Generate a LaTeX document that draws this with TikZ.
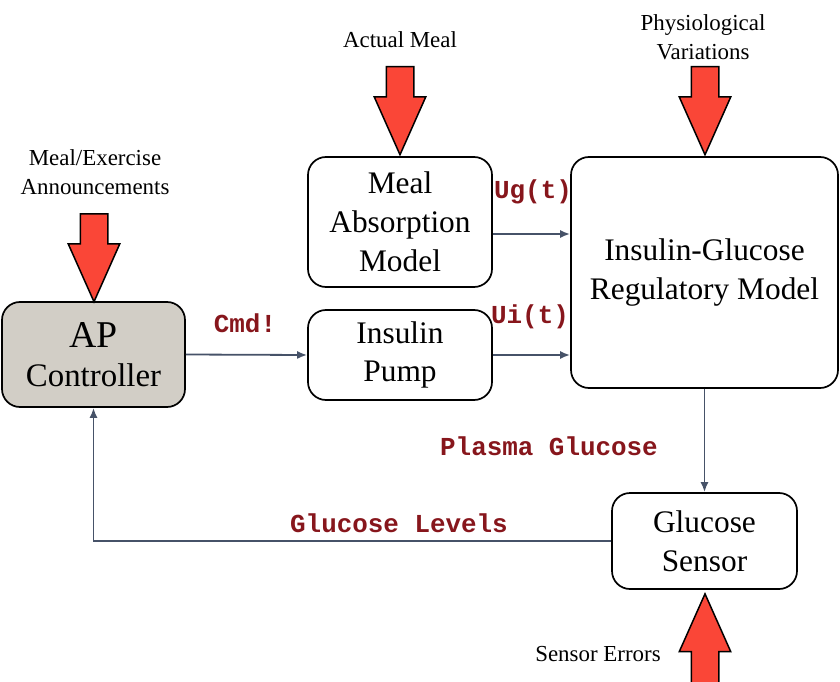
\documentclass[tikz,border=0pt]{standalone}
\usepackage{fontspec}
\usepackage{xcolor}
\usepackage{tikz}
\setmainfont{Liberation Serif}
\setmonofont{Liberation Mono}
\usetikzlibrary{arrows.meta,shapes}

\definecolor{apgray}{RGB}{210,206,198}
\definecolor{sigred}{RGB}{135,22,28}
\definecolor{wirecol}{RGB}{70,82,104}
\definecolor{inred}{RGB}{250,70,55}

\begin{document}
\begin{tikzpicture}[x=1bp, y=-1bp,
	block/.style={draw, line width=1.7bp, rounded corners=18bp, align=center, font=\fontsize{31.5}{39}\selectfont},
	siglabel/.style={font=\ttfamily\bfseries\fontsize{26}{28}\selectfont, text=sigred},
	link/.style={draw=wirecol, line width=1.8bp, -{Latex[length=10bp,width=8bp]}},
	inarrow/.style={single arrow, draw, line width=1.5bp, fill=inred, inner sep=13bp, single arrow head extend=12bp, single arrow tip angle=48, minimum height=88bp},
	note/.style={align=center, font=\fontsize{23}{29}\selectfont}]
			%\draw[help lines] (0,0) grid[step=50] (840,682);
			\useasboundingbox (0,0) rectangle (840,682);

			\node[block, fill=apgray, minimum width=183bp, minimum height=105bp] (ap) at (93.5,354.5) {{\fontsize{38}{43}\selectfont AP}\\{\fontsize{33}{43}\selectfont Controller}};
			\node[block, minimum width=184bp, minimum height=130bp] (meal) at (400,222) {Meal\\Absorption\\Model};
			\node[block, minimum width=184bp, minimum height=90bp] (pump) at (400,355) {Insulin\\Pump};
			\node[block, minimum width=267bp, minimum height=231bp] (reg) at (704.5,272.5) {Insulin-Glucose\\Regulatory Model};
			\node[block, minimum width=185bp, minimum height=96bp] (sensor) at (704.5,541) {Glucose\\Sensor};

			% red inputs
			\node[inarrow, rotate=-90, anchor=tail] (announce) at (94,213) {};
			\node[inarrow, rotate=-90, anchor=tail] (eat) at (400,66) {};
			\node[inarrow, rotate=-90, anchor=tail] (physio) at (705,66) {};
			\node[inarrow, rotate=90, anchor=tip, minimum height=100bp] (noise) at (705,592) {};

			\node[note] (announcetxt) at (95,172) {Meal/Exercise\\Announcements};
			\node[note] (eattxt) at (400,40) {Actual Meal};
			\node[note] (physiotxt) at (703,37) {Physiological\\Variations};
			\node[note] (noisetxt) at (598,654) {Sensor Errors};

			% signals
			\draw[link] (ap.east) -- (pump.west);
			\draw[link] ([yshift=-12bp]meal.east) -- ([yshift=-12bp]meal.east -| reg.west);
			\draw[link] (pump.east) -- (pump.east -| reg.west);
			\draw[link] (reg.south) -- (sensor.north);
			\draw[link] (sensor.west) -| (ap.south);

			\node[siglabel] (cmd) at (245,323) {Cmd!};
			\node[siglabel] (ug) at (533,192) {Ug(t)};
			\node[siglabel] (ui) at (530,317) {Ui(t)};
			\node[siglabel] (plasma) at (549,446) {Plasma Glucose};
			\node[siglabel] (levels) at (399,523) {Glucose Levels};
		\end{tikzpicture}
\end{document}
